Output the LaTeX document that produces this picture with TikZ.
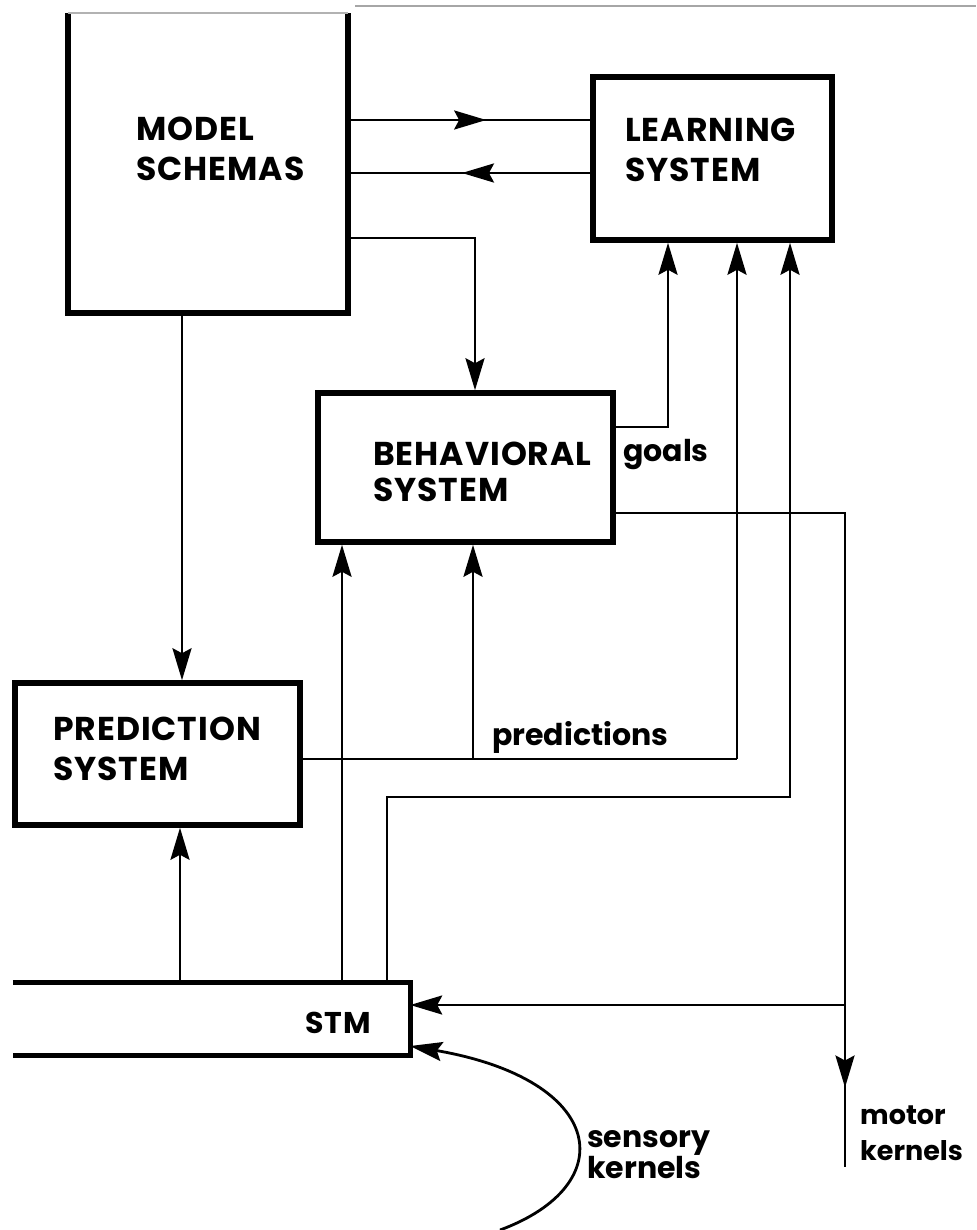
\documentclass[tikz,border=0pt]{standalone}
\usepackage{fontspec}
\setmainfont{Poppins}
\newfontfamily\capsfont{Poppins}[LetterSpace=3]
\newfontfamily\lowfont{Poppins}
\usetikzlibrary{arrows.meta,decorations.markings}

\tikzset{
  tip/.tip={Stealth[length=32pt,width=19pt,inset=5pt]},
  frame/.style={draw, line width=5.5pt, inner sep=0pt},
  conn/.style={line width=2.8pt},
  arr/.style={conn, -tip},
  midarrow/.style={conn, postaction={decorate},
    decoration={markings, mark=at position #1 with {\arrow{tip}}}},
  caps/.style={inner sep=0pt, anchor=north west, align=left,
    font=\capsfont\bfseries\fontsize{33}{40}\selectfont},
  low/.style={inner sep=0pt, anchor=north west, align=left,
    font=\lowfont\bfseries\fontsize{30}{#1}\selectfont},
  low/.default=36,
}

\begin{document}
\begin{tikzpicture}[x=1pt,y=-1pt]
\useasboundingbox (0,0) rectangle (976,1230);

% edge of the sheet
\draw[gray!70, line width=1.5pt] (355,6) -- (976,6);

% --- boxes ---
\node[inner sep=0pt, minimum width=280pt, minimum height=300pt] (ms) at (208,163) {};
\draw[line width=5.5pt, line join=miter] (ms.north west) -- (ms.south west) -- (ms.south east) -- (ms.north east);
\draw[gray!60, line width=1.5pt] (ms.north west) -- (ms.north east);
\node[frame, minimum width=239pt, minimum height=163pt] (ls) at (712.5,158.5) {};
\node[frame, minimum width=295pt, minimum height=149pt] (bs) at (465.5,467.5) {};
\node[frame, minimum width=285pt, minimum height=142pt] (ps) at (157.5,754) {};

% short-term memory: open on the left
\node[inner sep=0pt, minimum width=397pt, minimum height=72pt] (stm) at (211.5,1019) {};
\draw[line width=5pt] (stm.north west) -- (stm.north east) -- (stm.south east) -- (stm.south west);

% --- labels ---
\node[caps] (msl) at (136,117) {MODEL\\SCHEMAS};
\node[caps] (lsl) at (625,118) {LEARNING\\SYSTEM};
\node[caps, font=\capsfont\bfseries\fontsize{33}{36}\selectfont] (bsl) at (373,442) {BEHAVIORAL\\SYSTEM};
\node[caps] (psl) at (53,717) {PREDICTION\\SYSTEM};
\node[caps, font=\capsfont\bfseries\fontsize{30}{36}\selectfont] (stml) at (305,1012) {STM};
\node[low] (goals) at (623,439) {goals};
\node[low] (pred) at (492,721) {predictions};
\node[low=30] (sens) at (587,1130) {sensory\\kernels};
\node[low=36, font=\lowfont\bfseries\fontsize{27}{36}\selectfont] (mot) at (860,1106) {motor\\kernels};

% --- helper points ---
\coordinate (yA) at (0,120);
\coordinate (yB) at (0,173);
\coordinate (yC) at (0,238);
\coordinate (xC) at (475,0);
\coordinate (gC) at (668,427);
\coordinate (mC) at (845,513);
\coordinate (mE) at (845,1167);
\coordinate (pC) at (737,759);
\coordinate (xP) at (473,0);
\coordinate (xS1) at (342,0);
\coordinate (xS2) at (387,0);
\coordinate (sC) at (790,797);
\coordinate (xPS) at (180,0);
\coordinate (xMS) at (182,0);
\coordinate (yM) at (0,1005);
\coordinate (sk0) at (500,1230);

% --- connectors ---
\draw[midarrow=0.57] (ms.east |- yA) -- (ls.west |- yA);
\draw[midarrow=0.53] (ls.west |- yB) -- (ms.east |- yB);
\draw[arr] (ms.east |- yC) -- (xC |- yC) -- (xC |- bs.north);
\draw[arr] (xMS |- ms.south) -- (xMS |- ps.north);
\draw[arr] (bs.east |- gC) -- (gC) -- (gC |- ls.south);
\draw[midarrow=0.91] (bs.east |- mC) -- (mC) -- (mE);
\draw[arr] (mC |- yM) -- (stm.east |- yM);
\draw[conn] (ps.east |- pC) -- (pC);
\draw[arr] (pC) -- (pC |- ls.south);
\draw[arr] (xP |- pC) -- (xP |- bs.south);
\draw[arr] (xS1 |- stm.north) -- (xS1 |- bs.south);
\draw[arr] (xS2 |- stm.north) -- (xS2 |- sC) -- (sC) -- (sC |- ls.south);
\draw[arr] (xPS |- stm.north) -- (xPS |- ps.south);
\draw[arr] (sk0) .. controls (622,1185) and (607,1080) .. (stm.east |- {(0,1046)});
\end{tikzpicture}
\end{document}
